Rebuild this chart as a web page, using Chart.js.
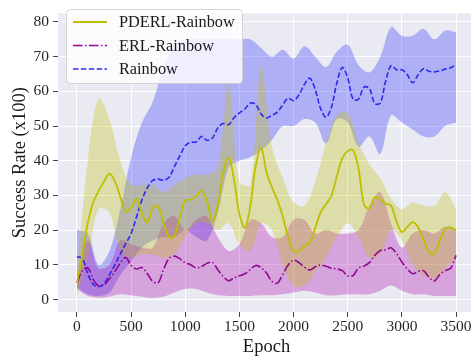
<!DOCTYPE html>
<html>
<head>
<meta charset="utf-8">
<script src="https://cdn.jsdelivr.net/npm/chart.js@4.4.1/dist/chart.umd.min.js"></script>
<style>
  html, body { margin: 0; padding: 0; background: #ffffff; overflow: hidden; }
  #wrap { width: 471px; height: 360px; overflow: hidden; }
</style>
</head>
<body>
<div id="wrap"><canvas id="chart" width="476" height="360"></canvas></div>
<script>
// x positions of the mean curves (every 50 epochs) and of the shaded bands (every 100 epochs)
const epochs = Array.from({ length: 71 }, (_, i) => i * 50);
const bandEpochs = Array.from({ length: 36 }, (_, i) => i * 100);

const xTicks = [0, 500, 1000, 1500, 2000, 2500, 3000, 3500];
const yTicks = [0, 10, 20, 30, 40, 50, 60, 70, 80];

// mean success rate (x100)
const pderlMean = [4.8, 13, 22, 28, 31.3, 34, 36.3, 34.1, 29.6, 25.3, 26.4, 29.0, 24.8, 22.2, 26.6, 26.8, 21.9, 17.9, 18.3, 23.7,
  28.5, 28.8, 29.8, 31.3, 28.3, 22.5, 27.2, 36.5, 41.0, 34.6, 24.6, 20.7, 26.9, 38.5, 43.8, 36.7, 32.4, 28.7, 24.0, 18.0,
  13.9, 14.0, 15.4, 16.4, 20.6, 25.2, 27.5, 29.9, 35.6, 40.7, 42.8, 43.0, 37.6, 27.3, 26.2, 29.5, 28.9, 27.6, 27.1, 22.6,
  19.4, 20.9, 22.3, 20.8, 17.2, 13.6, 13.2, 17.0, 20.3, 20.8, 20.0];
const erlMean = [4.8, 8.3, 9.1, 5.8, 3.9, 4.2, 6.0, 8.1, 10.5, 12.1, 9.8, 8.8, 9.2, 7.4, 5.2, 4.8, 8.7, 11.8, 12.5, 11.7,
  10.6, 10.0, 9.1, 9.5, 10.4, 10.7, 8.6, 6.6, 5.4, 6.2, 6.8, 7.4, 8.6, 9.8, 9.2, 7.6, 5.2, 4.7, 7.2, 9.9,
  11.3, 10.6, 9.3, 8.5, 9.4, 9.9, 9.6, 9.0, 8.8, 8.3, 6.8, 6.9, 9.1, 9.6, 10.6, 12.7, 14.1, 14.3, 14.9, 13.2,
  10.8, 8.8, 7.4, 8.1, 8.3, 6.4, 5.3, 7.2, 8.3, 9.0, 12.7];
const rainbowMean = [12.3, 11.8, 7.4, 4.4, 3.7, 4.6, 7.1, 10.0, 13.1, 16.1, 19.0, 23.8, 28.7, 32.2, 34.3, 34.7, 34.4, 35.2, 38.3, 41.4,
  44.3, 45.3, 45.4, 47.0, 45.9, 46.5, 49.4, 50.7, 50.4, 52.4, 53.8, 54.9, 56.6, 56.2, 53.5, 52.3, 53.1, 54.0, 56.1, 58.0,
  57.3, 59.0, 62.0, 63.8, 60.5, 55.0, 52.5, 55.5, 62.5, 66.9, 63.8, 57.7, 57.8, 61.2, 60.8, 56.5, 56.6, 62.9, 67.4, 66.2,
  66.2, 64.8, 62.5, 64.8, 66.5, 65.8, 65.6, 65.9, 66.4, 66.8, 67.7];

// shaded spread, lower and upper edges
const pderlLow = [1, 12, 26, 25, 14, 12, 13, 13, 12, 13, 18, 22, 22, 20, 22, 16, 14, 22, 20, 10,
  4, 4, 8, 12, 18, 22, 18, 12, 13, 20, 17, 10, 7, 6, 9, 12];
const pderlHigh = [8, 40, 58, 52, 40, 33, 33, 33, 31, 33, 35, 36, 36, 38, 62, 34, 33, 67, 44, 35,
  28, 27, 34, 45, 53, 54, 45, 39, 35, 29, 26, 28, 27, 27, 31, 26];
const erlLow = [3, 1, 0.5, 0.8, 1.5, 1.2, 0.8, 0.5, 0.8, 2, 3, 3, 2, 1.2, 1, 1, 1, 1.2, 1.2, 1.5,
  2, 2.5, 2, 1.2, 1.2, 1.5, 1.5, 1.5, 2.5, 4, 2.5, 1.5, 1.5, 1, 1, 1];
const erlHigh = [7, 17, 9, 10, 17, 16, 15, 15, 22, 24, 20, 23, 24, 18, 14, 16, 23, 22, 18, 18,
  23, 23, 19, 20, 19, 19, 20, 27, 31, 22, 15, 19, 20, 19, 21, 20];
const rainbowLow = [3.5, 1.5, 1.0, 2.0, 7, 11, 15, 17, 18, 18, 20, 18, 17, 25, 38, 40, 41, 43, 46, 50,
  50, 52, 51, 45, 52, 51, 44, 47, 42, 53, 51, 49, 47, 47, 50, 51];
const rainbowHigh = [20, 19, 10, 14, 26, 41, 51, 57, 67, 73, 75, 75, 75, 75, 75, 75, 75, 72.5, 70, 72,
  69.5, 73, 70, 67, 71.5, 73.5, 67.5, 65.5, 70, 78.5, 76, 76, 78, 75, 77.5, 77];

const seriesNames = ['PDERL-Rainbow', 'ERL-Rainbow', 'Rainbow'];

const serif = "'Liberation Serif', 'Times New Roman', serif";

function pts(xs, ys) {
  return ys.map((v, i) => ({ x: xs[i], y: v }));
}

function band(low, high, color) {
  return [
    { data: pts(bandEpochs, low), borderWidth: 0, pointRadius: 0, fill: false, tension: 0.35, order: 10 },
    { data: pts(bandEpochs, high), borderWidth: 0, pointRadius: 0, fill: '-1', backgroundColor: color, tension: 0.35, order: 10 }
  ];
}

const lineStyles = [
  { color: '#bfbf00', dash: [] },
  { color: '#8f088f', dash: [9.6, 2.4, 1.5, 2.4] },
  { color: '#2b2bf0', dash: [5.5, 2.4] }
];

const datasets = [
  ...band(pderlLow, pderlHigh, 'rgba(191, 191, 0, 0.3)'),
  ...band(erlLow, erlHigh, 'rgba(170, 0, 170, 0.3)'),
  ...band(rainbowLow, rainbowHigh, 'rgba(0, 0, 255, 0.25)'),
  { label: seriesNames[0], data: pts(epochs, pderlMean), borderColor: lineStyles[0].color, borderWidth: 1.8,
    pointRadius: 0, fill: false, tension: 0.35, order: 1 },
  { label: seriesNames[1], data: pts(epochs, erlMean), borderColor: lineStyles[1].color, borderWidth: 1.6,
    borderDash: lineStyles[1].dash, pointRadius: 0, fill: false, tension: 0.35, order: 1 },
  { label: seriesNames[2], data: pts(epochs, rainbowMean), borderColor: lineStyles[2].color, borderWidth: 1.6,
    borderDash: lineStyles[2].dash, pointRadius: 0, fill: false, tension: 0.35, order: 1 }
];

// grey plot background
const plotBackground = {
  id: 'plotBackground',
  beforeDraw(chart) {
    const { ctx, chartArea } = chart;
    ctx.save();
    ctx.fillStyle = '#eaeaf2';
    ctx.fillRect(chartArea.left, chartArea.top, chartArea.right - chartArea.left, chartArea.bottom - chartArea.top);
    ctx.restore();
  }
};

// legend box in the upper left, drawn on top
const cornerLegend = {
  id: 'cornerLegend',
  afterDraw(chart) {
    const ctx = chart.ctx;
    ctx.save();
    const x = 66, y = 9, w = 176, h = 74;
    ctx.beginPath();
    ctx.roundRect(x + 0.5, y + 0.5, w, h, 4);
    ctx.fillStyle = 'rgba(255, 255, 255, 0.8)';
    ctx.fill();
    ctx.strokeStyle = 'rgba(204, 204, 204, 0.8)';
    ctx.lineWidth = 1;
    ctx.stroke();
    const rows = [22, 45.5, 69];
    ctx.font = '16.3px ' + serif;
    ctx.textBaseline = 'middle';
    seriesNames.forEach((name, i) => {
      ctx.beginPath();
      ctx.setLineDash(lineStyles[i].dash);
      ctx.strokeStyle = lineStyles[i].color;
      ctx.lineWidth = i === 0 ? 1.8 : 1.6;
      ctx.moveTo(73, rows[i]);
      ctx.lineTo(107, rows[i]);
      ctx.stroke();
      ctx.setLineDash([]);
      ctx.fillStyle = '#1a1a1a';
      ctx.fillText(name, 119, rows[i] + 1);
    });
    ctx.restore();
  }
};

new Chart(document.getElementById('chart'), {
  type: 'line',
  data: { datasets },
  options: {
    responsive: false,
    animation: false,
    devicePixelRatio: 1,
    layout: { padding: { top: 3, right: 1, bottom: 0, left: 0 } },
    plugins: {
      legend: { display: false },
      tooltip: { enabled: false }
    },
    scales: {
      x: {
        type: 'linear',
        min: -175,
        max: 3675,
        afterBuildTicks: axis => { axis.ticks = xTicks.map(v => ({ value: v })); },
        afterFit: axis => { axis.height = 48; },
        grid: { color: '#ffffff', lineWidth: 1, tickLength: 5, tickColor: '#444444', tickWidth: 1 },
        border: { display: false },
        ticks: { color: '#262626', font: { family: serif, size: 15.5 }, padding: 1, maxRotation: 0,
          callback: v => String(v) },
        title: { display: true, text: 'Epoch', color: '#1a1a1a', font: { family: serif, size: 18.5 }, padding: { top: 0, bottom: 2 } }
      },
      y: {
        type: 'linear',
        min: -3.62,
        max: 82.5,
        afterBuildTicks: axis => { axis.ticks = yTicks.map(v => ({ value: v })); },
        afterFit: axis => { axis.width = 58; },
        grid: { color: '#ffffff', lineWidth: 1, tickLength: 5, tickColor: '#444444', tickWidth: 1 },
        border: { display: false },
        ticks: { color: '#262626', font: { family: serif, size: 15.5 }, padding: 4, callback: v => String(v) },
        title: { display: true, text: 'Success Rate (x100)', color: '#1a1a1a', font: { family: serif, size: 18.5 }, padding: { top: 9, bottom: 0 } }
      }
    }
  },
  plugins: [plotBackground, cornerLegend]
});
</script>
</body>
</html>
